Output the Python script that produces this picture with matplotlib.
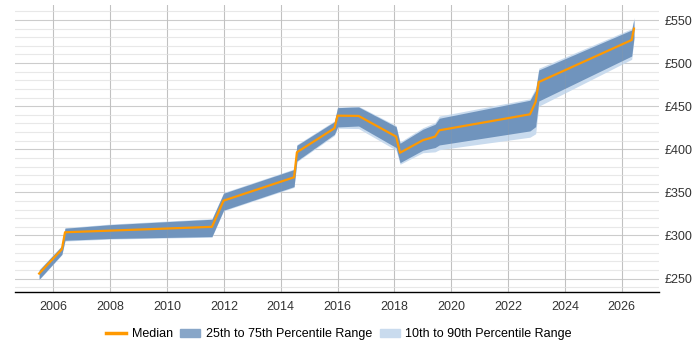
import matplotlib.pyplot as plt
import numpy as np
from matplotlib.patches import Patch
from matplotlib.lines import Line2D

plt.rcParams['font.family'] = ['Liberation Sans', 'DejaVu Sans']

# years (decimal) and values
years = [2005.50, 2006.30, 2006.41, 2008.0, 2011.58, 2011.99, 2014.47, 2014.57,
         2015.89, 2016.0, 2016.74, 2018.06, 2018.20, 2019.0, 2019.43, 2019.58,
         2022.77, 2022.97, 2023.08, 2026.35, 2026.43]
median = [255.8, 284.0, 303.7, 305.6, 310.0, 340.4, 367.5, 396.5,
          424.4, 439.0, 438.7, 414.7, 396.0, 410.5, 414.7, 422.0,
          440.6, 455.0, 478.0, 526.8, 540.0]
p25 = [249.2, 278.2, 294.4, 296.5, 298.7, 329.3, 356.7, 386.5,
       417.4, 425.9, 427.0, 402.0, 384.5, 398.9, 402.0, 405.0,
       421.3, 426.3, 456.0, 508.2, 529.5]
p75 = [259.7, 287.9, 308.4, 312.5, 318.8, 349.0, 376.4, 404.6,
       432.0, 448.3, 449.1, 426.3, 407.0, 423.2, 429.0, 436.0,
       456.9, 468.5, 492.0, 538.4, 550.8]
p10 = [248.5, 277.5, 293.5, 295.8, 298.0, 328.5, 355.8, 385.5,
       416.0, 424.5, 424.0, 399.0, 382.6, 396.0, 397.0, 399.5,
       414.0, 418.0, 450.0, 504.4, 527.0]
p90 = [260.5, 288.5, 309.0, 313.2, 319.5, 349.8, 377.2, 405.5,
       433.0, 449.0, 450.0, 427.5, 408.5, 425.0, 431.0, 438.5,
       458.5, 471.0, 494.0, 540.0, 553.0]

xticks = list(range(2006, 2027, 2))
yticks = list(range(250, 551, 50))

fig = plt.figure(figsize=(7, 3.5), dpi=100)
ax = fig.add_axes([0.0214, 0.165, 0.92, 0.8207])

c_med = '#ff9900'
c_iqr = '#7094bd'
c_dec = '#c9dbee'

ax.fill_between(years, p10, p90, color=c_dec, lw=0, zorder=2)
ax.fill_between(years, p25, p75, color=c_iqr, lw=0, zorder=3)
ax.plot(years, median, color=c_med, lw=1.6, zorder=5)

ax.set_xlim(2004.65, 2027.31)
ax.set_ylim(234.1, 567.4)
ax.set_xticks(xticks)
ax.set_yticks(yticks)
ax.set_yticks(np.arange(240, 561, 10), minor=True)
ax.set_yticklabels(['£%d' % v for v in yticks])
ax.yaxis.tick_right()
ax.tick_params(axis='both', length=0, labelsize=9, colors='#333333')
ax.tick_params(axis='x', pad=6)
ax.tick_params(axis='y', pad=4)
ax.tick_params(axis='y', which='minor', length=0)

ax.grid(True, which='major', color='#cccccc', lw=0.8, zorder=0)
ax.grid(True, which='minor', axis='y', color='#e8e8e8', lw=0.8, zorder=0)
# faint vertical lines showing through the bands
for xt in xticks:
    ax.axvline(xt, color='#999999', lw=0.6, alpha=0.25, zorder=4)
ax.set_axisbelow(True)
for s in ['top', 'left', 'right']:
    ax.spines[s].set_visible(False)
ax.spines['bottom'].set_color('black')
ax.spines['bottom'].set_linewidth(1.0)

handles = [Line2D([0], [0], color=c_med, lw=2.5),
           Patch(color='#88a6c8'),
           Patch(color=c_dec)]
labels = ['Median', '25th to 75th Percentile Range', '10th to 90th Percentile Range']
fig.legend(handles, labels, loc='center', bbox_to_anchor=(0.484, 0.045), ncol=3,
           frameon=False, fontsize=9, handlelength=1.6, columnspacing=0.6,
           handletextpad=0.45)

fig.savefig('out.png', dpi=100)
